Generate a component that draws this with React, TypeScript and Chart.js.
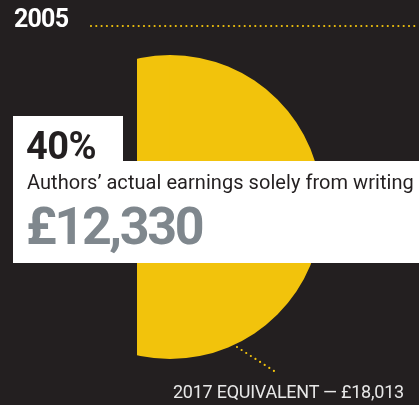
import React, { useEffect, useRef } from "react";
import { Chart, registerables } from "chart.js";

Chart.register(...registerables);

const sliceLabels = ["Authors' actual earnings solely from writing"];
const sliceValues = [12330];
const sliceColors = ["#f2c30c"];
const yearLabel = "2005";
const shareLabel = "40%";
const captionText = "Authors\u2019 actual earnings solely from writing";
const amountText = "\u00a312,330";
const equivalentText = "2017 EQUIVALENT \u2014 \u00a318,013";

const BG = "#231f20";
const YELLOW = "#f2c30c";

export default function App() {
  const ref = useRef<HTMLCanvasElement | null>(null);
  useEffect(() => {
    if (!ref.current) return;
    const chart = new Chart(ref.current, {
      type: "pie",
      data: {
        labels: sliceLabels,
        datasets: [
          {
            data: sliceValues,
            backgroundColor: sliceColors,
            borderWidth: 0,
          },
        ],
      },
      options: {
        animation: false,
        responsive: false,
        maintainAspectRatio: false,
        layout: { padding: 0 },
        plugins: { legend: { display: false }, tooltip: { enabled: false } },
      },
    });
    return () => chart.destroy();
  }, []);

  const font = "Roboto, 'DejaVu Sans', sans-serif";
  return (
    <div
      style={{
        position: "absolute",
        left: 0,
        top: 0,
        width: 419,
        height: 405,
        background: BG,
        overflow: "hidden",
        fontFamily: font,
      }}
    >
      <div
        style={{
          position: "absolute",
          left: 137,
          top: 0,
          width: 419 - 137,
          height: 405,
          overflow: "hidden",
        }}
      >
        <canvas
          ref={ref}
          width={304}
          height={304}
          style={{ position: "absolute", left: 18 - 137, top: 55, width: 304, height: 304 }}
        />
      </div>
      <svg
        width={419}
        height={405}
        style={{ position: "absolute", left: 0, top: 0 }}
      >
        <line
          x1={91}
          y1={26}
          x2={419}
          y2={26}
          stroke={YELLOW}
          strokeWidth={2.2}
          strokeLinecap="round"
          strokeDasharray="0 5.3"
        />
        <line
          x1={237}
          y1={347}
          x2={274}
          y2={371}
          stroke={YELLOW}
          strokeWidth={2.2}
          strokeLinecap="round"
          strokeDasharray="0 5.5"
        />
      </svg>
      <div
        style={{
          position: "absolute",
          left: 14,
          top: 4,
          color: "#fff",
          fontWeight: 700,
          fontSize: 25,
          letterSpacing: -0.8,
          lineHeight: "30px",
        }}
      >
        {yearLabel}
      </div>
      <div
        style={{
          position: "absolute",
          left: 13,
          top: 116,
          width: 110,
          height: 60,
          background: "#fff",
        }}
      />
      <div
        style={{
          position: "absolute",
          left: 13,
          top: 161,
          width: 419 - 13,
          height: 102,
          background: "#fff",
        }}
      />
      <div
        style={{
          position: "absolute",
          left: 26,
          top: 124,
          color: BG,
          fontWeight: 700,
          fontSize: 38,
          letterSpacing: -0.5,
          lineHeight: "44px",
        }}
      >
        {shareLabel}
      </div>
      <div
        style={{
          position: "absolute",
          left: 27,
          top: 170,
          color: BG,
          fontWeight: 400,
          fontSize: 20,
          letterSpacing: 0.05,
          whiteSpace: "nowrap",
          lineHeight: "24px",
        }}
      >
        {captionText}
      </div>
      <div
        style={{
          position: "absolute",
          left: 26,
          top: 197,
          color: "#7f878d",
          fontWeight: 700,
          fontSize: 52,
          letterSpacing: -2.4,
          whiteSpace: "nowrap",
          lineHeight: "60px",
        }}
      >
        {amountText}
      </div>
      <div
        style={{
          position: "absolute",
          left: 173,
          top: 381,
          color: "#e8e8e8",
          fontWeight: 400,
          fontSize: 18,
          letterSpacing: -0.25,
          whiteSpace: "nowrap",
          lineHeight: "22px",
        }}
      >
        {equivalentText}
      </div>
    </div>
  );
}
